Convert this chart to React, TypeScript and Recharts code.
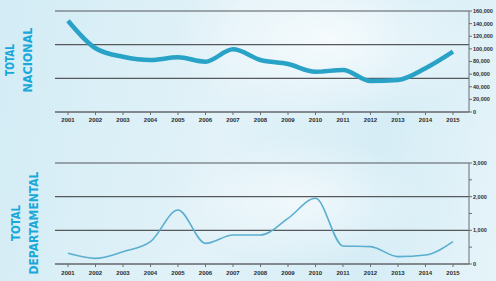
import { LineChart, Line, XAxis, YAxis, ReferenceLine } from 'recharts';

const years = [
  '2001', '2002', '2003', '2004', '2005', '2006', '2007', '2008',
  '2009', '2010', '2011', '2012', '2013', '2014', '2015',
];

const nacional = [
  144600, 101000, 87600, 82400, 86600, 79700, 99300, 82400,
  76000, 63800, 66500, 49100, 50700, 69200, 95500,
];

const departamental = [
  317, 168, 366, 663, 1604, 614, 861, 861,
  1356, 1951, 535, 515, 218, 267, 663,
];

const nacionalTicks = [0, 20000, 40000, 60000, 80000, 100000, 120000, 140000, 160000];
const nacionalGrid = [0, 53333, 106667, 160000];
const departamentalTicks = [0, 500, 1000, 1500, 2000, 2500, 3000];
const departamentalGrid = [0, 1000, 2000, 3000];

const nacionalData = years.map((year, i) => ({ year, value: nacional[i] }));
const departamentalData = years.map((year, i) => ({ year, value: departamental[i] }));

const AXIS = '#6b6f72';
const GRID = '#55595c';
const TICK_TEXT = { fontSize: 6, fontWeight: 700, fill: '#2a2c2e', fontFamily: 'Liberation Sans, Arial, sans-serif' };
const fmt = (v: number) => v.toLocaleString('en-US');
const fmtThousands = (v: number) => (v % 1000 === 0 ? v.toLocaleString('en-US') : '');

function SideLabel({ lines, xs, y, lengths }: { lines: string[]; xs: number[]; y: number; lengths: number[] }) {
  return (
    <>
      {lines.map((t, i) => (
        <text
          key={t}
          x={0}
          y={0}
          transform={`translate(${xs[i]}, ${y}) rotate(-90)`}
          textAnchor="middle"
          fontSize={12}
          fontWeight={700}
          fill="#18a9da"
          textLength={lengths[i]}
          lengthAdjust="spacingAndGlyphs"
          fontFamily="'Liberation Sans Narrow', 'DejaVu Sans Condensed', Arial, sans-serif"
        >
          {t}
        </text>
      ))}
    </>
  );
}

export default function App() {
  return (
    <div
      style={{
        position: 'fixed',
        left: 0,
        top: 0,
        width: 496,
        height: 281,
        overflow: 'hidden',
        background:
          'radial-gradient(ellipse 220px 120px at 330px 40px, rgba(255,255,255,0.75), rgba(255,255,255,0) 70%),' +
          'radial-gradient(ellipse 180px 90px at 300px 200px, rgba(255,255,255,0.6), rgba(255,255,255,0) 70%),' +
          'linear-gradient(100deg, #d3ecf5 0%, #e2f2f8 45%, #d6edf6 75%, #e6f4f9 100%)',
      }}
    >
      <svg width={496} height={281} style={{ position: 'absolute', left: 0, top: 0 }}>
        <SideLabel lines={['TOTAL', 'NACIONAL']} xs={[14, 32]} y={60} lengths={[32, 65]} />
        <SideLabel lines={['TOTAL', 'DEPARTAMENTAL']} xs={[20, 38]} y={223} lengths={[36, 103]} />
      </svg>

      <div style={{ position: 'absolute', left: 0, top: 0 }}>
        <LineChart width={496} height={128} data={nacionalData} margin={{ top: 11, right: 0, bottom: 0, left: 55 }}>
          {nacionalGrid.map((v) => (
            <ReferenceLine key={v} yAxisId="right" y={v} stroke={GRID} strokeWidth={1.2} />
          ))}
          <XAxis
            dataKey="year"
            height={16}
            padding={{ left: 13, right: 16 }}
            axisLine={{ stroke: AXIS }}
            tickLine={{ stroke: AXIS }}
            tickSize={3}
            tickMargin={3}
            tick={TICK_TEXT}
            interval={0}
          />
          <YAxis
            yAxisId="left"
            orientation="left"
            width={0}
            domain={[0, 160000]}
            ticks={nacionalGrid}
            tickFormatter={() => ''}
            axisLine={{ stroke: AXIS }}
            tickLine={{ stroke: AXIS }}
            tickSize={3}
          />
          <YAxis
            yAxisId="right"
            orientation="right"
            width={27}
            domain={[0, 160000]}
            ticks={nacionalTicks}
            tickFormatter={fmt}
            axisLine={{ stroke: AXIS }}
            tickLine={{ stroke: AXIS }}
            tickSize={3}
            tickMargin={1}
            tick={{ ...TICK_TEXT, fontSize: 5.5 }}
            interval={0}
          />
          <Line
            yAxisId="right"
            type="monotone"
            dataKey="value"
            stroke="#29a2c7"
            strokeWidth={4.5}
            dot={false}
            isAnimationActive={false}
          />
        </LineChart>
      </div>

      <div style={{ position: 'absolute', left: 0, top: 140 }}>
        <LineChart width={496} height={141} data={departamentalData} margin={{ top: 23, right: 0, bottom: 0, left: 55 }}>
          {departamentalGrid.map((v) => (
            <ReferenceLine key={v} yAxisId="right" y={v} stroke={GRID} strokeWidth={1.2} />
          ))}
          <XAxis
            dataKey="year"
            height={17}
            padding={{ left: 13, right: 16 }}
            axisLine={{ stroke: AXIS }}
            tickLine={{ stroke: AXIS }}
            tickSize={3}
            tickMargin={4}
            tick={TICK_TEXT}
            interval={0}
          />
          <YAxis
            yAxisId="left"
            orientation="left"
            width={0}
            domain={[0, 3000]}
            ticks={departamentalGrid}
            tickFormatter={() => ''}
            axisLine={{ stroke: AXIS }}
            tickLine={{ stroke: AXIS }}
            tickSize={3}
          />
          <YAxis
            yAxisId="right"
            orientation="right"
            width={27}
            domain={[0, 3000]}
            ticks={departamentalTicks}
            tickFormatter={fmtThousands}
            axisLine={{ stroke: AXIS }}
            tickLine={{ stroke: AXIS }}
            tickSize={3}
            tickMargin={1}
            tick={{ ...TICK_TEXT, fontSize: 5.5 }}
            interval={0}
          />
          <Line
            yAxisId="right"
            type="monotone"
            dataKey="value"
            stroke="#5aaecf"
            strokeWidth={1.6}
            dot={false}
            isAnimationActive={false}
          />
        </LineChart>
      </div>
    </div>
  );
}
